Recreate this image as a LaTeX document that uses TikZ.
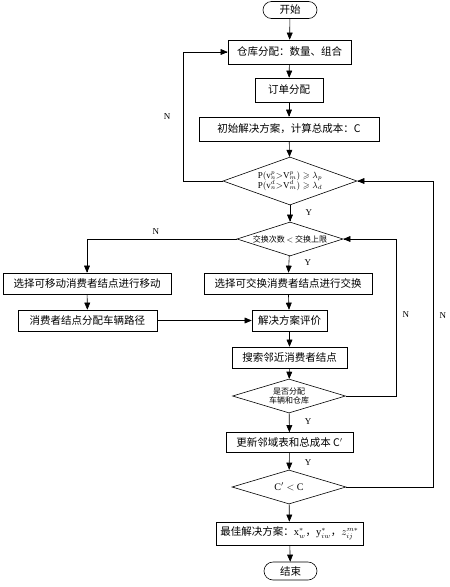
\documentclass[tikz,border=0pt]{standalone}
\usepackage{amssymb}
\usepackage{amsmath}
\usepackage{fontspec}
\usepackage{tikz}
\setmainfont{Liberation Serif}
\newfontfamily\cjk{Noto Sans CJK SC}
\usetikzlibrary{shapes.geometric, shapes.misc, positioning, arrows}
\tikzset{stepbox/.style={rectangle,draw,line width=0.6pt,inner sep=1pt,font=\cjk\fontsize{10.5}{12}\selectfont},
         decide/.style={diamond,draw,aspect=3.1,line width=0.6pt,inner sep=-4pt,font=\cjk\fontsize{8}{9.5}\selectfont,align=center},
         term/.style={rounded rectangle,draw,line width=0.6pt,inner sep=1pt,font=\cjk\fontsize{10.5}{12}\selectfont},
         flow/.style={-triangle 45,line width=0.6pt},
         lab/.style={font=\fontsize{9}{10}\selectfont}}

\begin{document}
\begin{tikzpicture}[x=1pt,y=-1pt]
      \useasboundingbox (0,0) rectangle (450,587);
      % main column
      \node[term,minimum width=56pt,minimum height=17pt] (start) at (290,10) {开始};
      \node[stepbox,minimum width=123pt,minimum height=24pt] (store) at (289.5,52) {仓库分配：数量、组合};
      \node[stepbox,minimum width=68pt,minimum height=24pt] (order) at (289,90) {订单分配};
      \node[stepbox,minimum width=180pt,minimum height=24pt] (init) at (289,129) {初始解决方案，计算总成本：C};
      \node[decide,aspect=2.8,minimum width=134pt,minimum height=48pt,font=\fontsize{9}{10}\selectfont] (check) at (290,181)
            {$\mathrm{P}(\mathrm{v}_n^p{>}\mathrm{V}_m^p)\geqslant\lambda_p$\\[-1pt]$\mathrm{P}(\mathrm{v}_n^d{>}\mathrm{V}_m^d)\geqslant\lambda_d$};
      \node[decide,minimum width=106pt,minimum height=34pt] (count) at (290,239) {交换次数 $<$ 交换上限};
      \node[stepbox,minimum width=168pt,minimum height=21pt] (swap) at (288,283.5) {选择可交换消费者结点进行交换};
      \node[stepbox,minimum width=168pt,minimum height=21pt] (move) at (87,283.5) {选择可移动消费者结点进行移动};
      \node[stepbox,minimum width=139pt,minimum height=21pt] (route) at (87.5,320.5) {消费者结点分配车辆路径};
      \node[stepbox,minimum width=75pt,minimum height=21pt] (eval) at (289.5,320.5) {解决方案评价};
      \node[stepbox,minimum width=115pt,minimum height=21pt] (search) at (289.5,357.5) {搜索邻近消费者结点};
      \node[decide,aspect=3.3,minimum width=113pt,minimum height=34pt] (assign) at (289,396) {是否分配\\车辆和仓库};
      \node[stepbox,minimum width=127pt,minimum height=20pt] (update) at (289.5,442.5) {更新邻域表和总成本 C$'$};
      \node[decide,aspect=3.3,minimum width=114pt,minimum height=34pt,font=\fontsize{10}{12}\selectfont] (cost) at (289,487) {C$'<$ C};
      \node[stepbox,minimum width=147pt,minimum height=23pt] (best) at (289.5,533.5)
            {最佳解决方案：$\mathrm{x}_w^*$，$\mathrm{y}_{iw}^*$，$z_{ij}^{m*}$};
      \node[term,minimum width=55pt,minimum height=18pt] (stop) at (290.5,571) {结束};

      % turning points of the loops
      \coordinate (loopL) at (183,0);
      \coordinate (loopR) at (396,0);
      \coordinate (loopRR) at (433,0);

      \draw[flow] (start) -- (store);
      \draw[flow] (store) -- (order);
      \draw[flow] (order) -- (init);
      \draw[flow] (init) -- (check);
      \draw[flow] (check) -- (count) node[lab,pos=0.45,right=12pt] {Y};
      \draw[flow] (count) -- (swap) node[lab,pos=0.4,right=12pt] {Y};
      \draw[flow] (swap) -- (eval);
      \draw[flow] (eval) -- (search);
      \draw[flow] (search) -- (assign);
      \draw[flow] (assign) -- (update) node[lab,pos=0.45,right=12pt] {Y};
      \draw[flow] (update) -- (cost) node[lab,pos=0.6,right=12pt] {Y};
      \draw[flow] (cost) -- (best);
      \draw[flow] (best) -- (stop);
      \draw[flow] (move) -- (route);
      \draw[flow] (route) -- (eval);

      \draw[flow] (check.west) -- (check.west -| loopL) |- (store.west) node[lab,pos=0.25,left=9pt] {N};
      \draw[flow] (count.west) -| (move.north) node[lab,pos=0.27,above=1pt] {N};
      \draw[flow] (assign.east) -- (assign.east -| loopR) |- (count.east) node[lab,pos=0.26,right=3pt] {N};
      \draw[flow] (cost.east) -- (cost.east -| loopRR) |- (check.east) node[lab,pos=0.28,right=3pt] {N};
  \end{tikzpicture}
\end{document}
